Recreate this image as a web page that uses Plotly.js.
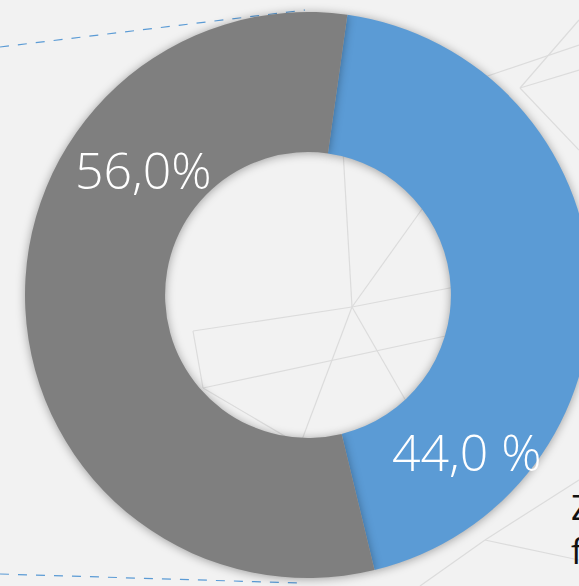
<!DOCTYPE html>
<html>
<head>
<meta charset="utf-8">
<script src="https://cdn.plot.ly/plotly-3.0.1.min.js"></script>
<style>
html, body { margin:0; padding:0; width:579px; height:586px; overflow:hidden; background:#f2f2f2; }
#chart { width:616px; height:590px; }
#chart .pielayer .slice path { filter: drop-shadow(0px 1px 5px rgba(0,0,0,0.35)); }
</style>
</head>
<body>
<div id="chart"></div>
<script>
// Data
var categories = ["Anteil A", "Anteil B"];
var values = [44.0, 56.0];
var labelTexts = ["44,0 %", "56,0%"];
var colors = ["#5B9BD5", "#7F7F7F"];

// pixel -> paper helpers (plot area: l=25, t=12, size 566)
function px(x){ return (x-25)/566; }
function py(y){ return 1-(y-12)/566; }

// faint background network lines (decoration)
var net = [
  [352,307,343,150],[352,307,425,205],[352,307,460,286],[352,307,193,331],
  [193,331,203,388],[352,307,300,445],[352,307,410,408],[203,388,455,334],
  [203,388,300,445],
  [520,88,579,20],[520,88,579,70],[470,82,579,45],[520,88,579,150],
  [485,540,579,480],[485,540,579,560],[420,586,485,540]
];
var shapes = net.map(function(s){
  return {type:"line", xref:"paper", yref:"paper", layer:"below",
    x0:px(s[0]), y0:py(s[1]), x1:px(s[2]), y1:py(s[3]),
    line:{color:"#dcdcdc", width:1.2}};
});
// dashed blue lines
shapes.push({type:"line", xref:"paper", yref:"paper", layer:"below",
  x0:px(0), y0:py(47), x1:px(305), y1:py(10), line:{color:"#5B9BD5", width:1.2, dash:"dash"}});
shapes.push({type:"line", xref:"paper", yref:"paper", layer:"below",
  x0:px(0), y0:py(574), x1:px(300), y1:py(583), line:{color:"#5B9BD5", width:1.2, dash:"dash"}});

var trace = {
  type:"pie",
  labels:categories,
  values:values,
  hole:0.505,
  sort:false,
  direction:"clockwise",
  rotation:8,
  marker:{colors:colors, line:{width:0}},
  textinfo:"none",
  hoverinfo:"skip",
  showlegend:false
};

var annotations = [
  {text:labelTexts[0], x:px(467), y:py(452)},
  {text:labelTexts[1], x:px(143), y:py(170)}
].map(function(a){
  return {text:a.text, x:a.x, y:a.y, xref:"paper", yref:"paper", showarrow:false,
    xanchor:"center", yanchor:"middle",
    font:{family:"Open Sans, Noto Sans, sans-serif", size:50, color:"#ffffff", weight:300}};
});
annotations.push({text:"Z", x:px(569), y:py(506), xref:"paper", yref:"paper", showarrow:false,
  xanchor:"left", yanchor:"middle", font:{family:"Open Sans, sans-serif", size:35, color:"#111111"}});
annotations.push({text:"f", x:px(569), y:py(550), xref:"paper", yref:"paper", showarrow:false,
  xanchor:"left", yanchor:"middle", font:{family:"Open Sans, sans-serif", size:35, color:"#111111"}});

var layout = {
  width:616, height:590,
  margin:{l:25, r:25, t:12, b:12, pad:0},
  paper_bgcolor:"#f2f2f2",
  plot_bgcolor:"rgba(0,0,0,0)",
  shapes:shapes,
  annotations:annotations,
  showlegend:false
};

Plotly.newPlot("chart", [trace], layout, {displayModeBar:false, staticPlot:true});
</script>
</body>
</html>
